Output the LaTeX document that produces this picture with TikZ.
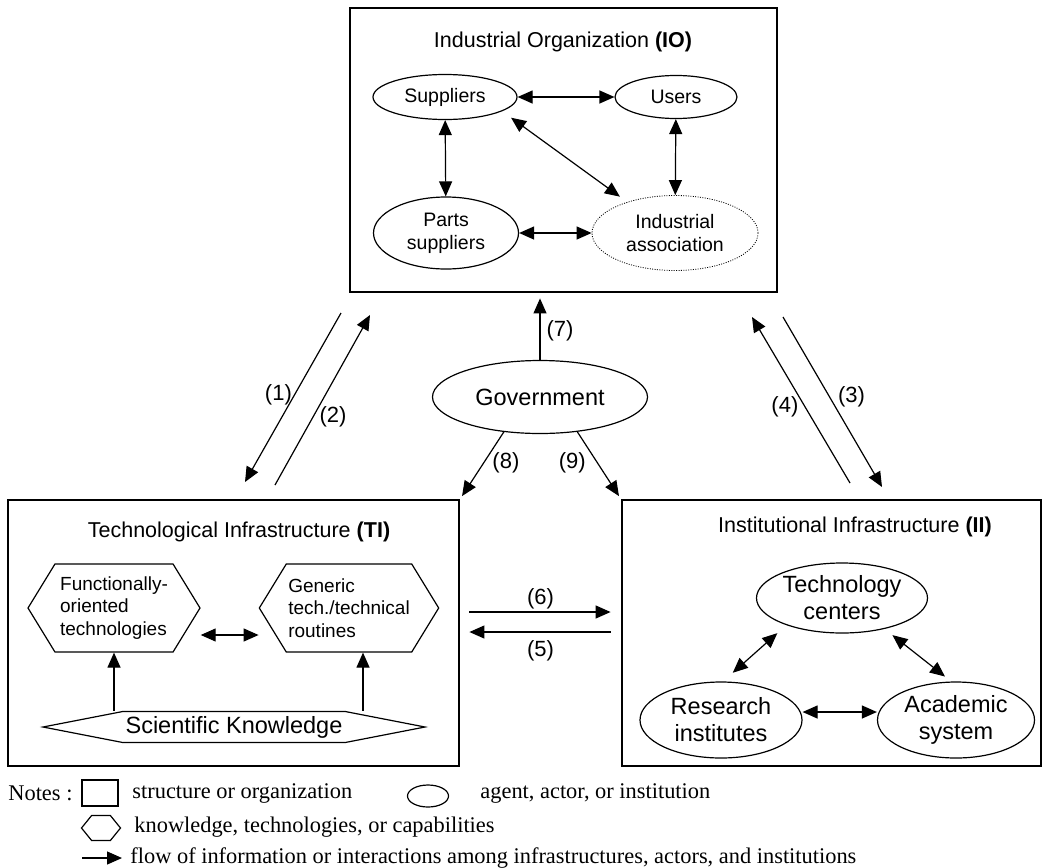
\documentclass[tikz,border=0pt]{standalone}
\usepackage{fontspec}
\setmainfont{Liberation Sans}
\newfontfamily\notesfont{Liberation Serif}
\usetikzlibrary{shapes.geometric, shapes.symbols, arrows.meta, fit, calc}

\begin{document}
\begin{tikzpicture}[x=0.5pt, y=-0.5pt, >={Triangle[length=7.5pt, width=6.5pt]},
    structure/.style={draw, line width=1.4pt, inner sep=0pt},
    agent/.style={draw, ellipse, line width=0.6pt, inner sep=0pt, align=center},
    knowhex/.style={draw, signal, signal to=east and west, line width=0.6pt, inner sep=1pt, align=left},
    flow/.style={->, line width=0.6pt},
    link/.style={<->, line width=0.6pt},
    head/.style={font=\fontsize{10.75}{13}\selectfont},
    iotext/.style={font=\fontsize{9.75}{11.5}\selectfont},
    iitext/.style={font=\fontsize{11.75}{13.5}\selectfont},
    hextext/.style={font=\fontsize{9.5}{11.25}\selectfont},
    numlab/.style={font=\fontsize{11}{13}\selectfont, inner sep=1pt},
    note/.style={font=\notesfont\fontsize{11.2}{13}\selectfont, anchor=west, inner sep=0pt}]

    \useasboundingbox (0,0) rectangle (1048,867);

    % Structures
    \node[structure, fit={(350,8) (777,292)}] (io) {};
    \node[structure, fit={(8,500) (459,766)}] (ti) {};
    \node[structure, fit={(622,500) (1041,766)}] (ii) {};
    \node[head] (iohead) at (563,42) {Industrial Organization \textbf{(IO)}};
    \node[head] (tihead) at (239,532) {Technological Infrastructure \textbf{(TI)}};
    \node[head] (iihead) at (855,527) {Institutional Infrastructure \textbf{(II)}};

    % Industrial organization
    \node[agent, iotext, minimum width=72pt, minimum height=22.5pt] (sup) at (445,97) {Suppliers};
    \node[agent, iotext, minimum width=61pt, minimum height=21.5pt] (usr) at (676,97) {Users};
    \node[agent, iotext, minimum width=72.5pt, minimum height=36pt] (psup) at (446,233) {Parts\\suppliers};
    \node[agent, iotext, line width=0.4pt, dash pattern=on 0.5pt off 0.7pt,
          minimum width=83pt, minimum height=37.5pt] (ia) at (675,233) {Industrial\\association};

    \draw[link] (sup) -- (usr);
    \draw[link] (sup) -- (psup);
    \draw[link] (usr) -- (ia);
    \draw[link] (psup) -- (ia);
    \draw[link, shorten <=5.5pt, shorten >=4.5pt] (sup.-14) -- (ia.147);

    % Government
    \node[agent, iitext, minimum width=107.5pt, minimum height=36.5pt] (gov) at (540,397) {Government};
    \draw[flow, shorten >=2.5pt] (gov.north) -- (gov.north |- io.south)
        node[numlab, pos=0.44, right=2pt] {(7)};
    \draw[flow, shorten >=1.5pt] (gov.224) -- (ti.north east)
        node[numlab, pos=0.46, right=3pt] {(8)};
    \draw[flow, shorten >=1.5pt] (gov.317) -- (ii.north west)
        node[numlab, pos=0.46, left=4.5pt] {(9)};

    % Flows between the infrastructures
    \coordinate (c1s) at (341,313);
    \coordinate (c1e) at (245,482);
    \coordinate (c2s) at (275,485);
    \coordinate (c2e) at (370,315);
    \coordinate (c3s) at (783,317);
    \coordinate (c3e) at (882,487);
    \coordinate (c4s) at (850,483);
    \coordinate (c4e) at (752,317);
    \draw[flow] (c1s) -- (c1e) node[numlab, pos=0.485, left=0pt] {(1)};
    \draw[flow] (c2s) -- (c2e) node[numlab, pos=0.4, right=2pt] {(2)};
    \draw[flow] (c3s) -- (c3e) node[numlab, pos=0.47, right=3pt] {(3)};
    \draw[flow] (c4s) -- (c4e) node[numlab, pos=0.46, left=2pt] {(4)};
    \draw[flow, shorten <=4.5pt, shorten >=5pt] ([yshift=10.5pt]ti.east) -- ([yshift=10.5pt]ii.west)
        node[numlab, midway, above] {(6)};
    \draw[flow, shorten <=5pt, shorten >=4.5pt] ([yshift=0.5pt]ii.west) -- ([yshift=0.5pt]ti.east)
        node[numlab, midway, below=3pt] {(5)};

    % Technological infrastructure
    \node[knowhex, hextext, minimum width=86pt, minimum height=44pt, signal pointer angle=117] (fot) at (114,608)
        {Functionally-\\oriented\\technologies};
    \node[knowhex, hextext, minimum width=86pt, minimum height=44pt, signal pointer angle=117] (gen) at (349,608)
        {Generic\\tech./technical\\routines};
    \node[knowhex, iitext, inner sep=0pt, minimum width=191pt, minimum height=15.5pt, signal pointer angle=22] (sk) at (234,727)
        {Scientific Knowledge};
    \draw[link] ([yshift=-13.5pt]fot.east) -- ([yshift=-13.5pt]gen.west);
    \draw[flow] (sk.north -| fot.south) -- (fot.south);
    \draw[flow] ($(sk.north -| gen.south)+(14,0)$) -- ($(gen.south)+(14,0)$);

    % Institutional infrastructure
    \node[agent, iitext, minimum width=85.5pt, minimum height=35pt] (tc) at (842,598) {Technology\\centers};
    \node[agent, iitext, minimum width=81pt, minimum height=38pt] (ri) at (721,720) {Research\\institutes};
    \node[agent, iitext, minimum width=78.5pt, minimum height=38pt] (as) at (956,720) {Academic\\system};
    \draw[link, shorten <=6pt, shorten >=6.5pt] (tc.206) -- (ri.87);
    \draw[link, shorten <=5pt, shorten >=4pt] (tc.-36) -- (as.97);
    \draw[link] ([yshift=4pt]ri.east) -- ([yshift=4pt]as.west);

    % Notes
    \node[note] (notes) at (8,793) {Notes :};
    \node[draw, line width=0.6pt, minimum width=18pt, minimum height=13pt, inner sep=0pt] (lbox) at (100,793) {};
    \node[note] (lboxtxt) at (132,793) {structure or organization};
    \node[agent, minimum width=20.5pt, minimum height=11pt] (lell) at (428,796) {};
    \node[note] (lelltxt) at (480,793) {agent, actor, or institution};
    \node[knowhex, inner sep=0pt, minimum width=19.5pt, minimum height=12.5pt, signal pointer angle=102] (lhex) at (101,828) {};
    \node[note] (lhextxt) at (134,827) {knowledge, technologies, or capabilities};
    \coordinate (lfs) at (82,858);
    \coordinate (lfe) at (122,858);
    \draw[flow] (lfs) -- (lfe);
    \node[note] (lflowtxt) at (130,858) {flow of information or interactions among infrastructures, actors, and institutions};
\end{tikzpicture}
\end{document}
